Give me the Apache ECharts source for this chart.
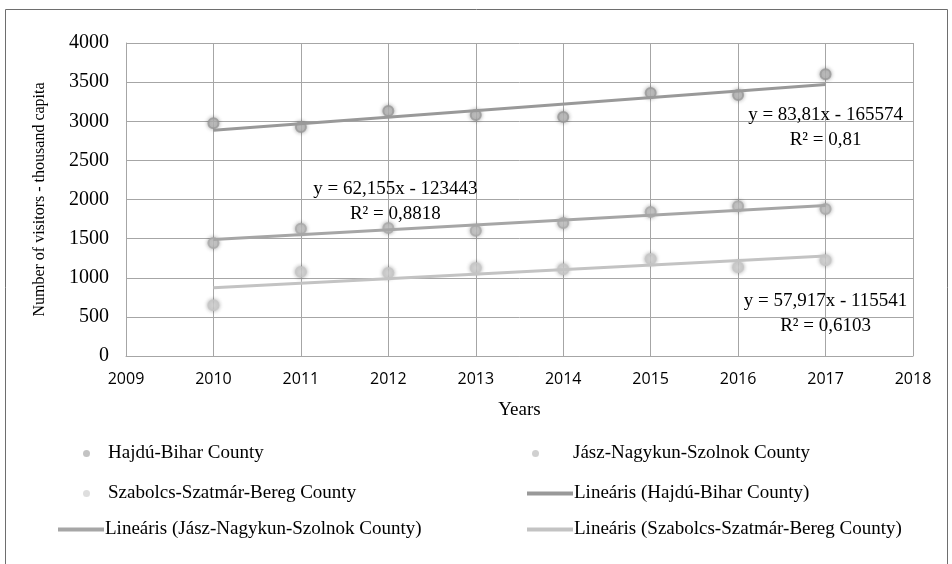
<!DOCTYPE html>
<html>
<head>
<meta charset="utf-8">
<script src="https://cdn.jsdelivr.net/npm/echarts@6/dist/echarts.min.js"></script>
<style>
  html, body { margin: 0; padding: 0; background: #fff; }
  #chart { width: 952px; height: 564px; }
</style>
</head>
<body>
<div id="chart"></div>
<script>
const years = [2010, 2011, 2012, 2013, 2014, 2015, 2016, 2017];
const hajduBihar = [2975, 2925, 3130, 3080, 3055, 3360, 3335, 3600];
const jaszNagykun = [1445, 1625, 1635, 1600, 1700, 1840, 1915, 1880];
const szabolcs = [650, 1075, 1060, 1125, 1110, 1240, 1135, 1225];

// trend line ends read at 2010 and 2017
const trendYears = [2010, 2017];
const hajduTrend = [2885, 3471];
const jaszTrend = [1489, 1924];
const szabolcsTrend = [872, 1278];

const names = [
  "Hajdú-Bihar County",
  "Jász-Nagykun-Szolnok County",
  "Szabolcs-Szatmár-Bereg County",
  "Lineáris (Hajdú-Bihar County)",
  "Lineáris (Jász-Nagykun-Szolnok County)",
  "Lineáris (Szabolcs-Szatmár-Bereg County)",
];

const equations = [
  { text: "y = 83,81x - 165574\nR² = 0,81", coord: [2017, 2920] },
  { text: "y = 62,155x - 123443\nR² = 0,8818", coord: [2012.08, 1980] },
  { text: "y = 57,917x - 115541\nR² = 0,6103", coord: [2017, 540] },
];

const serif = "'Liberation Serif', 'DejaVu Serif', serif";
const sans = "'Open Sans', 'Noto Sans', 'Liberation Sans', sans-serif";

function pairs(xs, ys) {
  return xs.map((x, i) => [x, ys[i]]);
}

function scatterSeries(name, ys, fill, border) {
  return {
    name: name,
    type: "scatter",
    data: pairs(years, ys),
    symbol: "circle",
    symbolSize: 10,
    itemStyle: {
      color: fill,
      borderColor: border,
      borderWidth: 2,
      shadowBlur: 4,
      shadowColor: "rgba(0,0,0,0.35)",
    },
    z: 3,
  };
}

function trendSeries(name, ys, color, eq) {
  return {
    name: name,
    type: "line",
    data: pairs(trendYears, ys),
    symbol: "none",
    lineStyle: { color: color, width: 3 },
    itemStyle: { color: color },
    z: 4,
    markPoint: {
      symbol: "circle",
      symbolSize: 1,
      itemStyle: { color: "transparent" },
      silent: true,
      data: [
        {
          coord: eq.coord,
          label: {
            show: true,
            formatter: eq.text,
            fontFamily: serif,
            fontSize: 19,
            lineHeight: 25,
            color: "#000",
            align: "center",
          },
        },
      ],
    },
  };
}

function legendItem(name, left, top, isLine, color, textPad) {
  return {
    data: [name],
    left: left,
    top: top,
    padding: 0,
    itemWidth: isLine ? 46 : 7,
    itemHeight: isLine ? 4 : 7,
    icon: isLine ? "rect" : "circle",
    itemGap: 0,
    itemStyle: { color: color, borderWidth: 0, shadowBlur: 0 },
    lineStyle: { color: color },
    textStyle: { fontFamily: serif, fontSize: 19, color: "#000", padding: [0, 0, 0, textPad] },
    selectedMode: false,
  };
}

const chart = echarts.init(document.getElementById("chart"));

chart.setOption({
  animation: false,
  backgroundColor: "#fff",
  graphic: [
    {
      type: "rect",
      shape: { x: 5.5, y: 9.5, width: 942, height: 600 },
      style: { fill: "none", stroke: "#6e6e6e", lineWidth: 1 },
      silent: true,
    },
  ],
  grid: { left: 126, right: 39, top: 43, bottom: 208 },
  xAxis: {
    type: "value",
    min: 2009,
    max: 2018,
    interval: 1,
    name: "Years",
    nameLocation: "middle",
    nameGap: 45,
    nameTextStyle: { fontFamily: serif, fontSize: 19, color: "#000" },
    axisLine: { show: true, lineStyle: { color: "#a6a6a6" } },
    axisTick: { show: false },
    axisLabel: { fontFamily: sans, fontSize: 16, color: "#000", margin: 15, formatter: (v) => String(v) },
    splitLine: { show: true, lineStyle: { color: "#a6a6a6", width: 1 } },
  },
  yAxis: {
    type: "value",
    min: 0,
    max: 4000,
    interval: 500,
    name: "Number of visitors - thousand capita",
    nameLocation: "middle",
    nameGap: 78,
    nameTextStyle: { fontFamily: serif, fontSize: 16, color: "#000" },
    axisLine: { show: true, lineStyle: { color: "#a6a6a6" } },
    axisTick: { show: false },
    axisLabel: { fontFamily: serif, fontSize: 20, color: "#000", margin: 17, formatter: (v) => String(v) },
    splitLine: { show: true, lineStyle: { color: "#a6a6a6", width: 1 } },
  },
  legend: [
    legendItem(names[0], 83, 444, false, "#b4b4b4", 13),
    legendItem(names[1], 532, 444, false, "#c4c4c4", 29),
    legendItem(names[2], 83, 484, false, "#d6d6d6", 13),
    legendItem(names[3], 527, 484, true, "#999999", -4),
    legendItem(names[4], 58, 520, true, "#a6a6a6", -4),
    legendItem(names[5], 527, 520, true, "#c3c3c3", -4),
  ],
  series: [
    scatterSeries(names[0], hajduBihar, "#c4c4c4", "#999999"),
    scatterSeries(names[1], jaszNagykun, "#cfcfcf", "#a9a9a9"),
    scatterSeries(names[2], szabolcs, "#e2e2e2", "#c6c6c6"),
    trendSeries(names[3], hajduTrend, "#999999", equations[0]),
    trendSeries(names[4], jaszTrend, "#a6a6a6", equations[1]),
    trendSeries(names[5], szabolcsTrend, "#c3c3c3", equations[2]),
  ],
});
</script>
</body>
</html>
